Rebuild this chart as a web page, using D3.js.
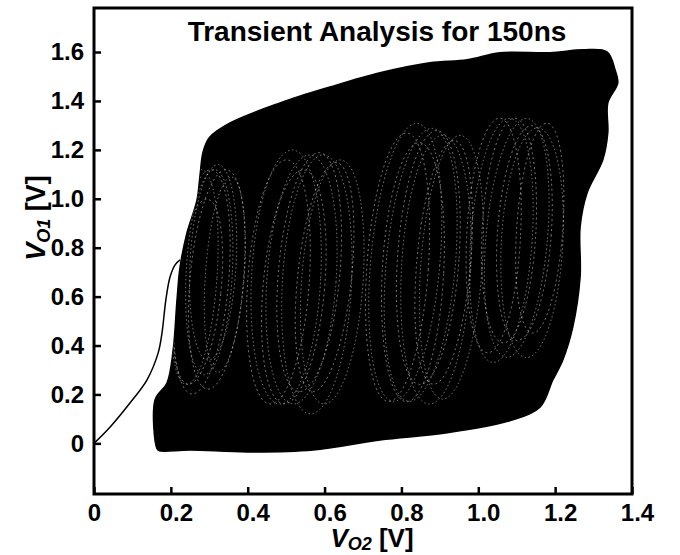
<!DOCTYPE html>
<html>
<head>
<meta charset="utf-8">
<script src="https://cdn.jsdelivr.net/npm/d3@7"></script>
<style>
  body { margin: 0; background: #fff; }
  svg text { font-family: "Liberation Sans", Arial, Helvetica, sans-serif; font-weight: bold; }
</style>
</head>
<body>
<div id="chart"></div>
<script>
// phase portrait V_O1 vs V_O2, transient 150ns

// tick values
const vo2Ticks = [0, 0.2, 0.4, 0.6, 0.8, 1.0, 1.2, 1.4];
const vo1Ticks = [0, 0.2, 0.4, 0.6, 0.8, 1.0, 1.2, 1.4, 1.6];

// start-up trajectory from the origin into the attractor
const transX = [0, 0.042, 0.094, 0.138, 0.167, 0.177, 0.187, 0.198, 0.211, 0.224];
const transY = [0, 0.067, 0.166, 0.260, 0.370, 0.452, 0.587, 0.681, 0.730, 0.750];

// outline of the dense orbit region (clockwise)
const envX = [0.164, 0.159, 0.190, 0.206, 0.216, 0.224, 0.242, 0.268, 0.276, 0.284, 0.300,
  0.354, 0.484, 0.614, 0.744, 0.874, 0.971, 1.056, 1.187, 1.272, 1.335, 1.356, 1.363,
  1.337, 1.337, 1.324, 1.283, 1.265, 1.265, 1.246, 1.220, 1.194, 1.161, 1.090, 0.919,
  0.744, 0.570, 0.398, 0.250, 0.170];
const envY = [-0.022, 0.178, 0.247, 0.382, 0.587, 0.722, 0.861, 0.995, 1.098, 1.192, 1.250,
  1.310, 1.392, 1.457, 1.515, 1.556, 1.568, 1.597, 1.597, 1.609, 1.601, 1.527, 1.474,
  1.392, 1.269, 1.159, 1.024, 0.885, 0.681, 0.476, 0.341, 0.259, 0.149, 0.096, 0.043,
  0.014, -0.027, -0.035, -0.027, -0.030];

// inner loops seen as the lighter lattice columns: centre, half sizes, tilt (deg)
const loopCx = [0.26, 0.28, 0.30, 0.32, 0.34, 0.27, 0.31,
  0.48, 0.50, 0.52, 0.54, 0.56, 0.58, 0.60, 0.62,
  0.79, 0.81, 0.83, 0.85, 0.87, 0.89, 0.91, 0.93,
  1.04, 1.06, 1.08, 1.10, 1.12, 1.14, 1.16];
const loopCy = [0.68, 0.66, 0.70, 0.67, 0.69, 0.62, 0.74,
  0.66, 0.68, 0.64, 0.67, 0.70, 0.65, 0.68, 0.66,
  0.72, 0.74, 0.70, 0.73, 0.76, 0.71, 0.74, 0.72,
  0.85, 0.83, 0.87, 0.84, 0.86, 0.82, 0.88];
const loopRx = [0.06, 0.07, 0.06, 0.07, 0.05, 0.06, 0.06,
  0.08, 0.09, 0.08, 0.09, 0.08, 0.09, 0.07, 0.08,
  0.08, 0.09, 0.08, 0.09, 0.08, 0.09, 0.07, 0.08,
  0.07, 0.08, 0.07, 0.08, 0.07, 0.08, 0.06];
const loopRy = [0.44, 0.46, 0.42, 0.45, 0.40, 0.38, 0.40,
  0.50, 0.52, 0.48, 0.51, 0.49, 0.53, 0.47, 0.50,
  0.55, 0.57, 0.53, 0.56, 0.52, 0.55, 0.50, 0.54,
  0.48, 0.50, 0.46, 0.49, 0.44, 0.47, 0.43];
const loopTilt = [4, 5, 3, 5, 4, 6, 3,
  4, 3, 5, 4, 5, 3, 6, 4,
  4, 5, 3, 5, 4, 3, 5, 4,
  3, 4, 3, 5, 4, 3, 4];

const width = 680, height = 555;
const margin = { left: 94, right: 632, top: 8, bottom: 494 };

const svg = d3.select("#chart").append("svg")
  .attr("width", width)
  .attr("height", height);

const x = d3.scaleLinear().domain([0, 1.4]).range([margin.left, margin.right]);
const y = d3.scaleLinear().domain([-0.207, 1.78]).range([margin.bottom, margin.top]);

const envLine = d3.line().x(d => x(d[0])).y(d => y(d[1])).curve(d3.curveCatmullRomClosed);

// clip for the lattice lines
svg.append("clipPath").attr("id", "envclip")
  .append("path")
  .attr("d", envLine(d3.zip(envX, envY)));

// dense region
svg.append("path")
  .datum(d3.zip(envX, envY))
  .attr("d", envLine)
  .attr("fill", "#000")
  .attr("stroke", "#000")
  .attr("stroke-width", 1.5);

// lattice texture (gaps between the crossing orbits)
svg.append("g")
  .attr("clip-path", "url(#envclip)")
  .selectAll("ellipse")
  .data(d3.range(loopCx.length))
  .join("ellipse")
    .attr("transform", i => `rotate(${loopTilt[i]},${x(loopCx[i])},${y(loopCy[i])})`)
    .attr("cx", i => x(loopCx[i]))
    .attr("cy", i => y(loopCy[i]))
    .attr("rx", i => x(loopCx[i] + loopRx[i]) - x(loopCx[i]))
    .attr("ry", i => y(loopCy[i] - loopRy[i]) - y(loopCy[i]))
    .attr("fill", "none")
    .attr("stroke", "#fff")
    .attr("stroke-opacity", 0.5)
    .attr("stroke-width", 0.9)
    .attr("stroke-dasharray", (i) => i % 2 ? "2 3" : "1.5 2.5");

// transient
svg.append("path")
  .datum(d3.zip(transX, transY))
  .attr("d", d3.line().x(d => x(d[0])).y(d => y(d[1])).curve(d3.curveCatmullRom))
  .attr("fill", "none")
  .attr("stroke", "#000")
  .attr("stroke-width", 1.5);

const fmt = d => d === 0 ? "0" : d3.format(".1f")(d);

// axes, ticks point inward
const xAxis = svg.append("g")
  .attr("transform", `translate(0,${margin.bottom})`)
  .call(d3.axisBottom(x).tickValues(vo2Ticks).tickFormat(fmt).tickSize(-7).tickPadding(10));
xAxis.select(".domain").remove();
xAxis.selectAll("line").attr("stroke-width", 2.5);
xAxis.selectAll("text")
  .attr("font-size", 24)
  .attr("fill", "#000")
  .attr("dx", d => d === 0 ? 0 : 5);

const yAxis = svg.append("g")
  .attr("transform", `translate(${margin.left},0)`)
  .call(d3.axisLeft(y).tickValues(vo1Ticks).tickFormat(fmt).tickSize(-7).tickPadding(10));
yAxis.select(".domain").remove();
yAxis.selectAll("line").attr("stroke-width", 2.5);
yAxis.selectAll("text")
  .attr("font-size", 24)
  .attr("fill", "#000");

// frame
svg.append("rect")
  .attr("x", margin.left).attr("y", margin.top)
  .attr("width", margin.right - margin.left).attr("height", margin.bottom - margin.top)
  .attr("fill", "none")
  .attr("stroke", "#000")
  .attr("stroke-width", 3);

// title
svg.append("text")
  .attr("x", 377)
  .attr("y", 41)
  .attr("text-anchor", "middle")
  .attr("font-size", 28)
  .text("Transient Analysis for 150ns");

// x label
const xl = svg.append("text")
  .attr("x", 372)
  .attr("y", 547)
  .attr("text-anchor", "middle")
  .attr("font-size", 26);
xl.append("tspan").attr("font-style", "italic").text("V");
xl.append("tspan").attr("font-style", "italic").attr("font-size", 18).attr("dy", 3).text("O2");
xl.append("tspan").attr("dy", -3).text(" [V]");

// y label
const yl = svg.append("text")
  .attr("transform", "translate(45,218) rotate(-90)")
  .attr("text-anchor", "middle")
  .attr("font-size", 27);
yl.append("tspan").attr("font-style", "italic").text("V");
yl.append("tspan").attr("font-style", "italic").attr("font-size", 18).attr("dy", 5).text("O1");
yl.append("tspan").attr("dy", -5).text(" [V]");
</script>
</body>
</html>
